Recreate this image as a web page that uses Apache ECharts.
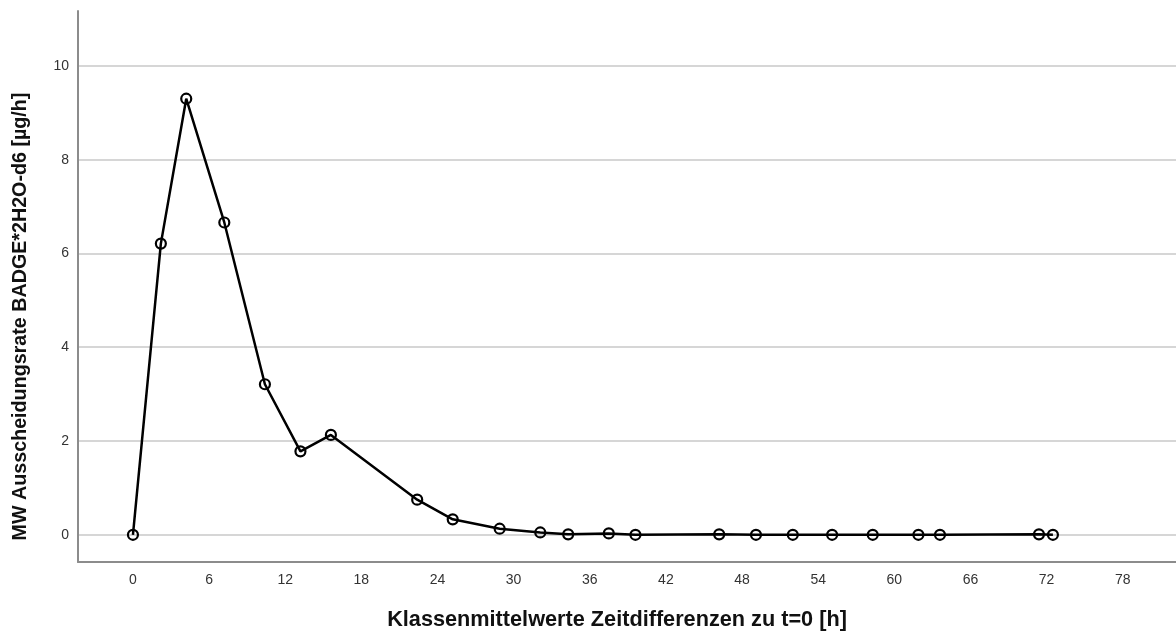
<!DOCTYPE html>
<html>
<head>
<meta charset="utf-8">
<script src="https://cdn.jsdelivr.net/npm/echarts@6/dist/echarts.min.js"></script>
<style>html,body{margin:0;padding:0;background:#fff;}#c{width:1176px;height:637px;}</style>
</head>
<body>
<div id="c"></div>
<script>
const xValues = [0, 2.2, 4.2, 7.2, 10.4, 13.2, 15.6, 22.4, 25.2, 28.9, 32.1, 34.3, 37.5, 39.6, 46.2, 49.1, 52.0, 55.1, 58.3, 61.9, 63.6, 71.4, 72.5];
const yValues = [0, 6.21, 9.30, 6.66, 3.21, 1.78, 2.13, 0.75, 0.33, 0.13, 0.05, 0.01, 0.03, 0.0, 0.01, 0.0, 0.0, 0.0, 0.0, 0.0, 0.0, 0.01, 0.0];
const xTicks = [0, 6, 12, 18, 24, 30, 36, 42, 48, 54, 60, 66, 72, 78];
const yTicks = [0, 2, 4, 6, 8, 10];
const xTitle = 'Klassenmittelwerte Zeitdifferenzen zu t=0 [h]';
const yTitle = 'MW Ausscheidungsrate BADGE*2H2O-d6 [µg/h]';

const chart = echarts.init(document.getElementById('c'));
const font = '"Liberation Sans", Arial, sans-serif';
chart.setOption({
  animation: false,
  backgroundColor: '#fff',
  grid: { left: 78, right: 0, top: 11, bottom: 75, containLabel: false },
  xAxis: {
    type: 'value', min: -4.33, max: 82.2,
    name: xTitle, nameLocation: 'middle', nameGap: 47,
    nameTextStyle: { fontFamily: font, fontSize: 21.7, fontWeight: 'bold', color: '#111', padding: [0, 20, 0, 0] },
    axisLine: { show: true, onZero: false, lineStyle: { color: '#8c8c8c', width: 2 } },
    axisTick: { show: false, customValues: xTicks },
    axisLabel: { customValues: xTicks, fontFamily: font, fontSize: 14, color: '#333', margin: 11 },
    splitLine: { show: false }
  },
  yAxis: {
    type: 'value', min: -0.58, max: 11.17,
    name: yTitle, nameLocation: 'middle', nameGap: 47, nameRotate: 90,
    nameTextStyle: { fontFamily: font, fontSize: 19.7, fontWeight: 'bold', color: '#111', padding: [0, 60, 0, 0] },
    axisLine: { show: true, onZero: false, lineStyle: { color: '#8c8c8c', width: 2 } },
    axisTick: { show: false, customValues: yTicks },
    axisLabel: { customValues: yTicks, fontFamily: font, fontSize: 14, color: '#333', margin: 9 },
    splitLine: { show: true, lineStyle: { color: '#c8c8c8', width: 1.5 } }
  },
  series: [{
    type: 'line',
    data: xValues.map((x, i) => [x, yValues[i]]),
    symbol: 'circle', symbolSize: 10,
    lineStyle: { color: '#000', width: 2.5 },
    itemStyle: { color: 'rgba(255,255,255,0)', borderColor: '#000', borderWidth: 2.2 },
    z: 5
  }]
});
</script>
</body>
</html>
